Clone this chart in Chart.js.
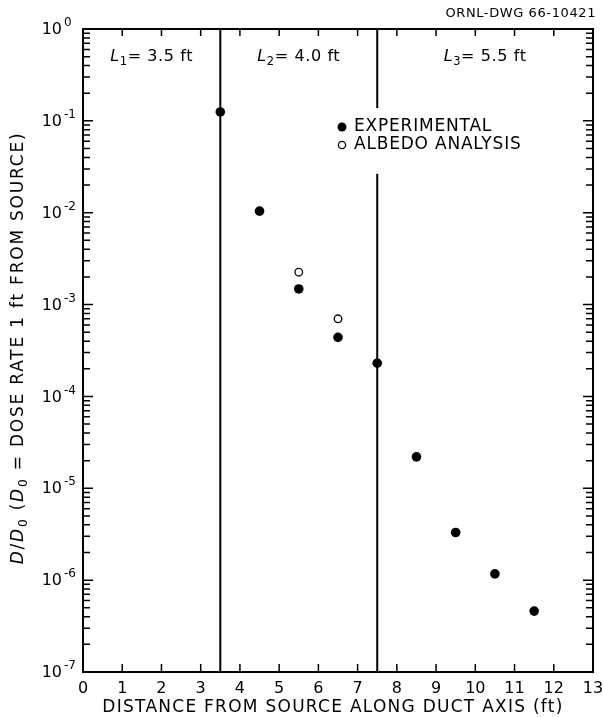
<!DOCTYPE html>
<html>
<head>
<meta charset="utf-8">
<title>D/D0 along duct axis</title>
<script src="https://cdn.jsdelivr.net/npm/chart.js@4.4.1/dist/chart.umd.min.js"></script>
<style>
  html, body { margin: 0; padding: 0; background: #fff; }
</style>
</head>
<body>
<canvas id="doseChart" width="603" height="717"></canvas>
<script>
const expX = [3.5, 4.5, 5.5, 6.5, 7.5, 8.5, 9.5, 10.5, 11.5];
const expY = [0.125, 0.0104, 1.48e-3, 4.4e-4, 2.3e-4, 2.2e-5, 3.3e-6, 1.17e-6, 4.6e-7];
const albX = [5.5, 6.5];
const albY = [2.25e-3, 7.0e-4];

// duct legs
const legBounds = [0, 3.5, 7.5, 13];
const legLengths = ['3.5', '4.0', '5.5'];
const gapTop = 0.138;   // second wall line is broken around the legend
const gapBottom = 0.0265;

const xTicks = [0, 1, 2, 3, 4, 5, 6, 7, 8, 9, 10, 11, 12, 13];
const decades = [-7, -6, -5, -4, -3, -2, -1, 0];

const seriesNames = ['EXPERIMENTAL', 'ALBEDO ANALYSIS'];
const xTitle = 'DISTANCE FROM SOURCE ALONG DUCT AXIS (ft)';
const dwgNumber = 'ORNL-DWG 66-10421';

const FONT = '"DejaVu Sans", sans-serif';

function pts(xs, ys) {
    return xs.map((v, i) => ({x: v, y: ys[i]}));
}

// letter spacing that stretches text to a given width
function spread(ctx, text, width) {
    ctx.letterSpacing = '0px';
    const w = ctx.measureText(text).width;
    return Math.max(0, (width - w) / Math.max(1, text.length - 1));
}

// draws a run of text pieces, some italic / subscripted
function drawPieces(ctx, pieces, x, y, size, align, ls) {
    const fontOf = p => (p.italic ? 'italic ' : '') + (p.sub ? size * 0.72 : size) + 'px ' + FONT;
    ctx.letterSpacing = (ls || 0) + 'px';
    let total = 0;
    pieces.forEach(p => { ctx.font = fontOf(p); total += ctx.measureText(p.t).width; });
    let cx = align == 'center' ? x - total / 2 : x;
    ctx.textAlign = 'left';
    ctx.textBaseline = 'middle';
    pieces.forEach(p => {
        ctx.font = fontOf(p);
        ctx.fillText(p.t, cx, p.sub ? y + size * 0.3 : y);
        cx += ctx.measureText(p.t).width;
    });
    ctx.letterSpacing = '0px';
}

const decorations = {
    id: 'decorations',
    afterDraw(chart) {
        const {ctx, chartArea: a, scales: {x, y}} = chart;
        ctx.save();
        ctx.strokeStyle = '#000';
        ctx.fillStyle = '#000';

        // frame
        ctx.lineWidth = 2;
        ctx.strokeRect(a.left, a.top, a.right - a.left, a.bottom - a.top);

        // inward ticks
        ctx.lineWidth = 1.5;
        ctx.beginPath();
        y.ticks.forEach(t => {
            const py = y.getPixelForValue(t.value);
            const major = Math.abs(Math.log10(t.value) - Math.round(Math.log10(t.value))) < 1e-6;
            const len = major ? 10 : 7;
            ctx.moveTo(a.left, py); ctx.lineTo(a.left + len, py);
            ctx.moveTo(a.right, py); ctx.lineTo(a.right - len, py);
        });
        x.ticks.forEach(t => {
            const px = x.getPixelForValue(t.value);
            ctx.moveTo(px, a.bottom); ctx.lineTo(px, a.bottom - 8);
            ctx.moveTo(px, a.top); ctx.lineTo(px, a.top + 7);
        });
        ctx.stroke();

        // y tick labels 10^n
        decades.forEach(n => {
            const py = y.getPixelForValue(Math.pow(10, n));
            ctx.font = '16px ' + FONT;
            ctx.textAlign = 'right';
            ctx.textBaseline = 'middle';
            ctx.fillText('10', 62, py + 1);
            ctx.font = '12px ' + FONT;
            ctx.textAlign = 'left';
            ctx.fillText(n == 0 ? '0' : '-' + Math.abs(n), 64, py - 6);
        });

        // y axis title
        const yPieces = [
            {t: 'D', italic: true}, {t: '/'}, {t: 'D', italic: true}, {t: '0', sub: true},
            {t: ' ('}, {t: 'D', italic: true}, {t: '0', sub: true},
            {t: ' = DOSE RATE 1 ft FROM SOURCE)'}
        ];
        ctx.font = '17px ' + FONT;
        const yls = spread(ctx, yPieces.map(p => p.t).join(''), 437);
        ctx.save();
        ctx.translate(19, 348);
        ctx.rotate(-Math.PI / 2);
        drawPieces(ctx, yPieces, 0, 0, 17, 'center', yls);
        ctx.restore();

        // x axis title
        ctx.font = '17px ' + FONT;
        ctx.letterSpacing = spread(ctx, xTitle, 460) + 'px';
        ctx.textAlign = 'center';
        ctx.textBaseline = 'middle';
        ctx.fillText(xTitle, 333, 708);
        ctx.letterSpacing = '0px';

        // leg labels
        legLengths.forEach((len, i) => {
            const cx = (x.getPixelForValue(legBounds[i]) + x.getPixelForValue(legBounds[i + 1])) / 2;
            drawPieces(ctx, [
                {t: 'L', italic: true}, {t: String(i + 1), sub: true}, {t: '= ' + len + ' ft'}
            ], cx, a.top + 28, 16, 'center', 0.6);
        });

        // legend
        const lx = a.left + 259, ly = a.top + 98;
        ctx.beginPath();
        ctx.arc(lx, ly, 4.5, 0, Math.PI * 2);
        ctx.fill();
        ctx.beginPath();
        ctx.lineWidth = 1.3;
        ctx.arc(lx, ly + 18, 3.6, 0, Math.PI * 2);
        ctx.stroke();
        ctx.font = '17px ' + FONT;
        ctx.textAlign = 'left';
        ctx.textBaseline = 'middle';
        ctx.letterSpacing = '0.8px';
        ctx.fillText(seriesNames[0], lx + 12, ly);
        ctx.fillText(seriesNames[1], lx + 12, ly + 18);

        // drawing number
        ctx.font = '13px ' + FONT;
        ctx.letterSpacing = '0.6px';
        ctx.textAlign = 'right';
        ctx.fillText(dwgNumber, a.right + 3, 14);
        ctx.letterSpacing = '0px';
        ctx.restore();
    }
};

const ctx = document.getElementById('doseChart');
const chart = new Chart(ctx, {
    type: 'scatter',
    data: {
        datasets: [
            {
                label: seriesNames[0],
                data: pts(expX, expY),
                backgroundColor: '#000',
                borderWidth: 0,
                pointRadius: 4.8
            },
            {
                label: seriesNames[1],
                data: pts(albX, albY),
                backgroundColor: '#fff',
                borderColor: '#000',
                borderWidth: 1.3,
                pointRadius: 3.8
            },
            {
                label: 'wall 1',
                data: [{x: legBounds[1], y: 1e-7}, {x: legBounds[1], y: 1}],
                showLine: true,
                borderColor: '#000',
                borderWidth: 2,
                pointRadius: 0
            },
            {
                label: 'wall 2',
                data: [{x: legBounds[2], y: 1e-7}, {x: legBounds[2], y: gapBottom},
                       {x: legBounds[2], y: null},
                       {x: legBounds[2], y: gapTop}, {x: legBounds[2], y: 1}],
                showLine: true,
                spanGaps: false,
                borderColor: '#000',
                borderWidth: 2,
                pointRadius: 0
            }
        ]
    },
    options: {
        responsive: false,
        animation: false,
        layout: {
            padding: {top: 29, right: 10, left: 0, bottom: 0}
        },
        scales: {
            x: {
                type: 'linear',
                min: 0,
                max: 13,
                afterBuildTicks: scale => { scale.ticks = xTicks.map(v => ({value: v})); },
                afterFit: scale => {
                    scale.height = 45;
                    scale.paddingLeft = 0;
                    scale.paddingRight = 0;
                },
                grid: {display: false, drawTicks: false},
                border: {display: false},
                ticks: {
                    color: '#000',
                    padding: 7,
                    font: {family: FONT, size: 16}
                }
            },
            y: {
                type: 'logarithmic',
                min: 1e-7,
                max: 1,
                afterBuildTicks: scale => {
                    const list = [];
                    decades.forEach(n => {
                        for (let m = 1; m <= 9; m++) {
                            if (n == 0 && m > 1) break;
                            list.push({value: m * Math.pow(10, n)});
                        }
                    });
                    scale.ticks = list;
                },
                afterFit: scale => {
                    scale.width = 83;
                    scale.paddingTop = 0;
                    scale.paddingBottom = 0;
                },
                grid: {display: false, drawTicks: false},
                border: {display: false},
                ticks: {display: false}
            }
        },
        plugins: {
            legend: {display: false},
            tooltip: {enabled: false}
        }
    },
    plugins: [decorations]
});
</script>
</body>
</html>
